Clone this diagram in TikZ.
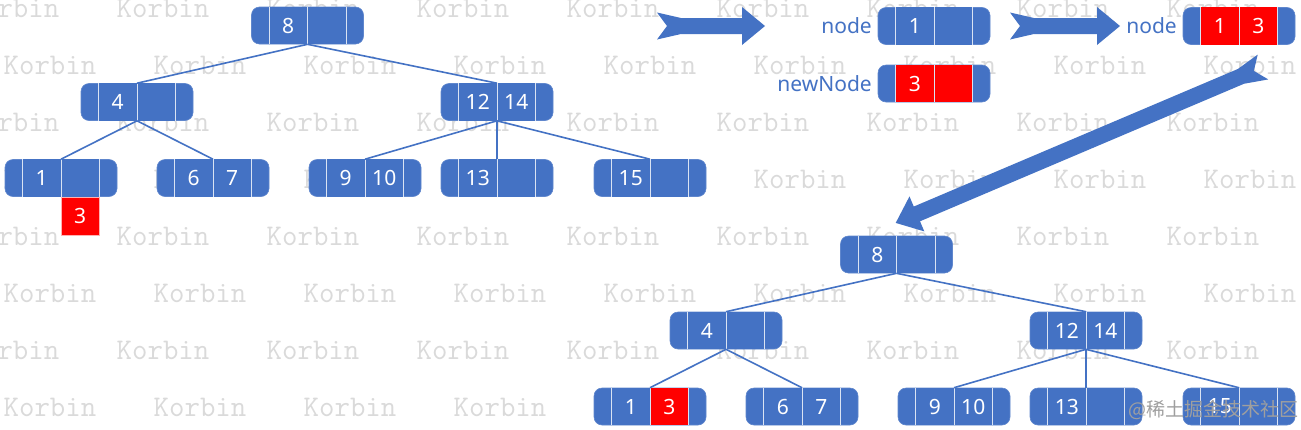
\documentclass[tikz,border=0pt]{standalone}
\usepackage{fontspec}
\setmainfont{Noto Sans}
\newfontfamily\cjkfont{Noto Sans CJK SC}
\usetikzlibrary{calc}

\definecolor{keyblue}{HTML}{4472C4}
\definecolor{keyred}{HTML}{FF0000}
\definecolor{markgray}{HTML}{DADADA}

% one B-tree node: name, centre, left key, right key, left cell colour, right cell colour
\newcommand{\keynode}[6]{%
  \node[keybox] (#1) at (#2) {};
  \fill[#5] ([xshift=-38.5pt]#1.south) rectangle (#1.north);
  \fill[#6] (#1.south) rectangle ([xshift=38.5pt]#1.north);
  \foreach \dx in {-38.5,0,38.5}
    \draw[cellline] ([xshift=\dx pt]#1.south) -- ([xshift=\dx pt]#1.north);
  \node[keytext] (#1-l) at ([xshift=-19.25pt]#1.center) {#3};
  \node[keytext] (#1-r) at ([xshift=19.25pt]#1.center) {#4};
}

% block arrow with notched tail, tail at the origin, length #1
\newcommand{\notcharrow}[1]{%
  \fill[keyblue] (0,-13.5) -- (24,-8) -- ({#1-23},-8) -- ({#1-23},-19) -- (#1,0)
    -- ({#1-23},19) -- ({#1-23},8) -- (24,8) -- (0,13.5) -- (10,0) -- cycle;
}

\begin{document}
\begin{tikzpicture}[x=1pt, y=-1pt,
    keybox/.style={rectangle, rounded corners=8pt, minimum width=112pt, minimum height=37pt,
      inner sep=0pt, fill=keyblue, draw=keyblue!85!white, line width=0.6pt},
    cellline/.style={white!80!keyblue, line width=0.8pt},
    keytext/.style={text=white, font=\fontsize{21}{21}\selectfont, inner sep=0pt},
    redcell/.style={rectangle, fill=keyred, draw=white!70!keyred, line width=0.6pt,
      minimum width=38.5pt, minimum height=38pt, inner sep=0pt, text=white,
      font=\fontsize{21}{21}\selectfont},
    tag/.style={text=keyblue, font=\fontsize{21}{21}\selectfont, inner sep=0pt},
    link/.style={keyblue, line width=1.6pt},
    wmark/.style={text=markgray, font=\ttfamily\fontsize{30}{30}\selectfont, inner sep=0pt}]

  \fill[white] (0,0) rectangle (1301,429);
  \useasboundingbox (0,0) rectangle (1301,429);

  % watermark grid
  \foreach \row in {0,...,7}{
    \pgfmathsetmacro\wy{8+57*\row}
    \pgfmathsetmacro\wx{13+37*mod(\row,2)}
    \foreach \col in {0,...,8}
      \node[wmark] (wm-\row-\col) at ({\wx+150*\col},\wy) {Korbin};
  }

  % left tree: 3 lands in the leaf [1]
  \keynode{a8}{307.5,25.5}{8}{}{keyblue}{keyblue}
  \keynode{a4}{137,102}{4}{}{keyblue}{keyblue}
  \keynode{a1214}{497,102}{12}{14}{keyblue}{keyblue}
  \keynode{a1}{61,178}{1}{}{keyblue}{keyblue}
  \keynode{a67}{213,178}{6}{7}{keyblue}{keyblue}
  \keynode{a910}{365,178}{9}{10}{keyblue}{keyblue}
  \keynode{a13}{497,178}{13}{}{keyblue}{keyblue}
  \keynode{a15}{650,178}{15}{}{keyblue}{keyblue}
  \node[redcell, anchor=north] (a3) at ([xshift=19.25pt]a1.south) {3};

  \draw[link] (a8.south) -- (a4.north);
  \draw[link] (a8.south) -- (a1214.north);
  \draw[link] (a4.south) -- (a1.north);
  \draw[link] (a4.south) -- (a67.north);
  \draw[link] (a1214.south) -- (a910.north);
  \draw[link] (a1214.south) -- (a13.north);
  \draw[link] (a1214.south) -- (a15.north);

  % node and newNode
  \begin{scope}[shift={(657,26)}]
    \notcharrow{108}
  \end{scope}
  \node[tag, anchor=east] (lab1) at (872,26) {node};
  \keynode{b1}{934,26}{1}{}{keyblue}{keyblue}
  \node[tag, anchor=east] (lab2) at (872,83.5) {newNode};
  \keynode{b3}{934,83.5}{3}{}{keyred}{keyred}

  % merged node
  \begin{scope}[shift={(1010,26)}]
    \notcharrow{110}
  \end{scope}
  \node[tag, anchor=east] (lab3) at (1177,26) {node};
  \keynode{c13}{1239,26}{1}{3}{keyred}{keyred}

  % back down to the tree
  \begin{scope}[shift={(1263,67)}, rotate=203]
    \notcharrow{399}
  \end{scope}

  % right tree after the insert
  \keynode{d8}{896.5,254.5}{8}{}{keyblue}{keyblue}
  \keynode{d4}{726,330.5}{4}{}{keyblue}{keyblue}
  \keynode{d1214}{1086,330.5}{12}{14}{keyblue}{keyblue}
  \keynode{d13}{650,406.5}{1}{3}{keyblue}{keyred}
  \keynode{d67}{802,406.5}{6}{7}{keyblue}{keyblue}
  \keynode{d910}{954,406.5}{9}{10}{keyblue}{keyblue}
  \keynode{d13b}{1086,406.5}{13}{}{keyblue}{keyblue}
  \keynode{d15}{1239,406.5}{15}{}{keyblue}{keyblue}

  \draw[link] (d8.south) -- (d4.north);
  \draw[link] (d8.south) -- (d1214.north);
  \draw[link] (d4.south) -- (d13.north);
  \draw[link] (d4.south) -- (d67.north);
  \draw[link] (d1214.south) -- (d910.north);
  \draw[link] (d1214.south) -- (d13b.north);
  \draw[link] (d1214.south) -- (d15.north);

  \node[text=gray!75, font=\cjkfont\fontsize{19}{19}\selectfont, inner sep=0pt] (site) at (1213,410) {@稀土掘金技术社区};
\end{tikzpicture}
\end{document}
